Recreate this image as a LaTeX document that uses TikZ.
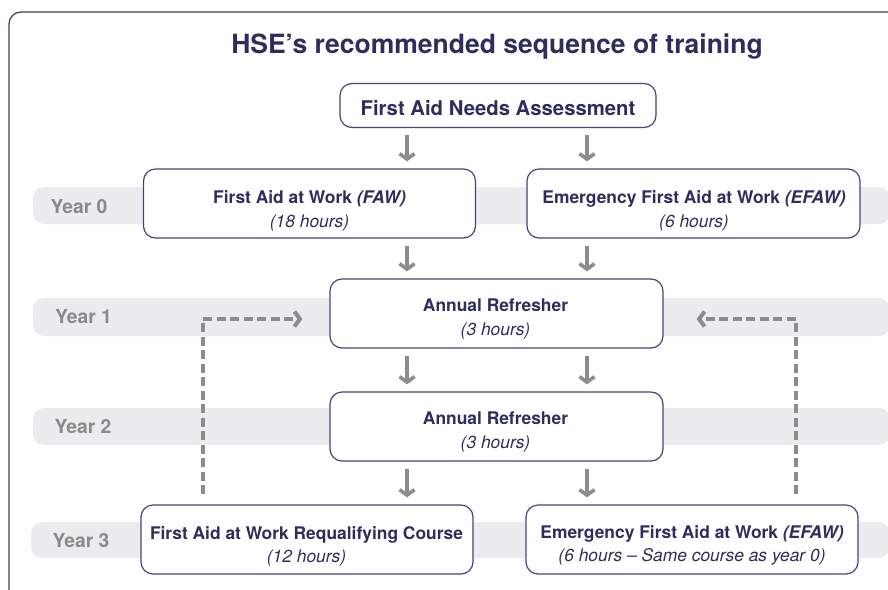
\documentclass[tikz,border=0pt]{standalone}
\usepackage{fontspec}
\setmainfont{TeX Gyre Heros}
\usetikzlibrary{arrows.meta}
\definecolor{navy}{HTML}{2E2D5E}
\definecolor{bandgray}{HTML}{ECEBEE}
\definecolor{arrowgray}{HTML}{8C8C8C}
\definecolor{yeargray}{HTML}{8A8A8A}
\definecolor{boxline}{HTML}{45447A}
\definecolor{frameline}{HTML}{3A3968}
\begin{document}
\begin{tikzpicture}[x=1pt,y=-1pt,
  frame/.style={draw=frameline, line width=1.2pt, rounded corners=12pt},
  band/.style={fill=bandgray, rounded corners=11pt},
  box/.style={draw=boxline, line width=1.2pt, fill=white, rounded corners=12pt, inner sep=0pt},
  yearlbl/.style={text=yeargray, font=\fontsize{19.3}{21}\selectfont\bfseries, anchor=base, inner sep=0pt},
  titletxt/.style={text=navy, font=\fontsize{26.5}{30}\selectfont\bfseries, anchor=base, inner sep=0pt},
  headtxt/.style={text=navy, font=\fontsize{20.3}{23}\selectfont\bfseries, anchor=base, inner sep=0pt},
  maintxt/.style={text=navy, font=\fontsize{17.4}{20}\selectfont\bfseries, anchor=base, inner sep=0pt},
  subtxt/.style={text=navy, font=\fontsize{17.4}{20}\selectfont\itshape, anchor=base, inner sep=0pt},
  flow/.style={draw=arrowgray, line width=3.6pt, shorten <=7pt, shorten >=7pt,
    -{Straight Barb[length=5.5pt,width=15pt]}},
  dflow/.style={draw=arrowgray, line width=4pt, dash pattern=on 9pt off 4.5pt,
    -{Straight Barb[length=5.5pt,width=15pt]}}
]
\useasboundingbox (0,0) rectangle (888,589);
\begin{scope}
  \clip (0,0) rectangle (888,589);
  \draw[frame] (9,12) rectangle (905,610);
  \fill[band] (33,187) rectangle (890,224);
  \fill[band] (33,298) rectangle (890,336);
  \fill[band] (33,408) rectangle (890,445);
  \fill[band] (31,522) rectangle (890,558);
\end{scope}

% title
\node[titletxt] (title) at (497,53) {HSE’s recommended sequence of training};

% year labels
\node[yearlbl] (y0) at (79,213) {Year 0};
\node[yearlbl] (y1) at (83.5,323) {Year 1};
\node[yearlbl] (y2) at (83,433) {Year 2};
\node[yearlbl] (y3) at (81,547) {Year 3};

% boxes
\node[box, minimum width=316pt, minimum height=44pt] (FANA) at (498,105.5) {};
\node[box, minimum width=332pt, minimum height=69pt] (FAW) at (309.5,203.5) {};
\node[box, minimum width=333pt, minimum height=69pt] (EFAW) at (693.5,203.5) {};
\node[box, minimum width=333pt, minimum height=69pt] (AR1) at (496.5,313.5) {};
\node[box, minimum width=333pt, minimum height=69pt] (AR2) at (496.5,426.5) {};
\node[box, minimum width=332pt, minimum height=69pt] (REQ) at (307,539.5) {};
\node[box, minimum width=332pt, minimum height=69pt] (EFAW3) at (692,539.5) {};

% texts
\node[headtxt] (FANAt) at (498,115) {First Aid Needs Assessment};
\node[maintxt] (FAWt) at (309.5,203) {First Aid at Work \textit{(FAW)}};
\node[subtxt] (FAWs) at (309.5,227) {(18 hours)};
\node[maintxt] (EFAWt) at (694,203) {Emergency First Aid at Work \textit{(EFAW)}};
\node[subtxt] (EFAWs) at (694,227) {(6 hours)};
\node[maintxt] (AR1t) at (495.5,311) {Annual Refresher};
\node[subtxt] (AR1s) at (495.5,335) {(3 hours)};
\node[maintxt] (AR2t) at (495.5,424) {Annual Refresher};
\node[subtxt] (AR2s) at (495.5,448) {(3 hours)};
\node[maintxt] (REQt) at (306.5,539) {First Aid at Work Requalifying Course};
\node[subtxt] (REQs) at (306.5,562) {(12 hours)};
\node[maintxt] (EFAW3t) at (692,538) {Emergency First Aid at Work \textit{(EFAW)}};
\node[subtxt] (EFAW3s) at (692,561) {(6 hours – Same course as year 0)};

% solid arrows
\coordinate (xl) at (407,0);
\coordinate (xr) at (587,0);
\draw[flow] (FANA.south -| xl) -- (FAW.north -| xl);
\draw[flow] (FANA.south -| xr) -- (EFAW.north -| xr);
\draw[flow] (FAW.south -| xl) -- (AR1.north -| xl);
\draw[flow] (EFAW.south -| xr) -- (AR1.north -| xr);
\draw[flow] (AR1.south -| xl) -- (AR2.north -| xl);
\draw[flow] (AR1.south -| xr) -- (AR2.north -| xr);
\draw[flow] (AR2.south -| xl) -- (REQ.north -| xl);
\draw[flow] (AR2.south -| xr) -- (EFAW3.north -| xr);

% dashed return arrows
\coordinate (dl) at (203,0);
\coordinate (dr) at (796,0);
\draw[dflow, shorten <=10pt, shorten >=27pt] (REQ.north -| dl) |- ([yshift=-5.5pt]AR1.west);
\draw[dflow, shorten <=10pt, shorten >=33pt] (EFAW3.north -| dr) |- ([yshift=-5.5pt]AR1.east);
\end{tikzpicture}
\end{document}
